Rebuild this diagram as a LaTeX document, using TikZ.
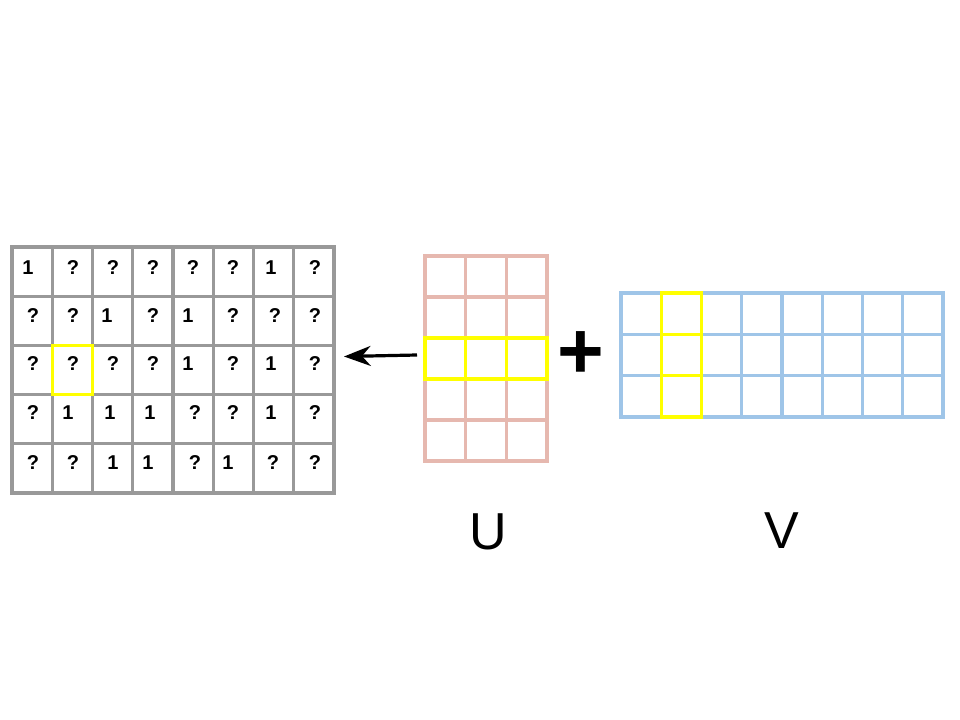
\documentclass[tikz,border=0pt]{standalone}
\usepackage{fontspec}
\setmainfont{Liberation Sans}
\usetikzlibrary{arrows.meta}
\tikzset{>=Stealth}
\definecolor{gridgray}{HTML}{999999}
\definecolor{upink}{HTML}{E6B8AF}
\definecolor{vblue}{HTML}{9FC5E8}
\definecolor{hilite}{HTML}{FFFF00}
\tikzset{
  cell/.style={inner sep=0pt, font=\fontsize{15}{16}\bfseries\selectfont},
  name label/.style={inner sep=0pt, font=\fontsize{39}{40}\selectfont}
}

\begin{document}
\begin{tikzpicture}[x=0.75pt,y=-0.75pt,line width=2.5pt,line cap=rect]
\useasboundingbox (0,0) rectangle (960,720);
% rating matrix
\foreach \i in {0,...,8}
  \draw[gridgray] ({12+40.25*\i},247)--({12+40.25*\i},493);
\foreach \j in {0,...,5}
  \draw[gridgray] (12,{247+49.2*\j})--(334,{247+49.2*\j});
\draw[hilite] (52.25,345.4) rectangle (92.5,394.6);
\foreach \x/\t [count=\k] in {28/1,73/?,113/?,153/?,193/?,233/?,271/1,315/?}
  \node[cell] (ra\k) at (\x,268) {\t};
\foreach \x/\t [count=\k] in {33/?,73/?,107/1,153/?,188/1,233/?,275/?,315/?}
  \node[cell] (rb\k) at (\x,316) {\t};
\foreach \x/\t [count=\k] in {33/?,73/?,113/?,153/?,188/1,233/?,271/1,315/?}
  \node[cell] (rc\k) at (\x,364) {\t};
\foreach \x/\t [count=\k] in {33/?,68/1,110/1,150/1,195/?,233/?,271/1,315/?}
  \node[cell] (rd\k) at (\x,413) {\t};
\foreach \x/\t [count=\k] in {33/?,73/?,113/1,148/1,195/?,228/1,273/?,315/?}
  \node[cell] (re\k) at (\x,463) {\t};
% U
\foreach \i in {0,...,3}
  \draw[upink] ({425+40.67*\i},256)--({425+40.67*\i},461);
\foreach \j in {0,...,5}
  \draw[upink] (425,{256+41*\j})--(547,{256+41*\j});
\draw[hilite] (425,338) rectangle (547,379);
\draw[hilite] (465.67,338)--(465.67,379) (506.33,338)--(506.33,379);
\node[name label] (ulabel) at (488,532) {U};
% V
\foreach \i in {0,...,8}
  \draw[vblue] ({621+40.25*\i},293)--({621+40.25*\i},417);
\foreach \j in {0,...,3}
  \draw[vblue] (621,{293+41.33*\j})--(943,{293+41.33*\j});
\draw[hilite] (661.25,293) rectangle (701.5,417);
\draw[hilite] (661.25,334.33)--(701.5,334.33) (661.25,375.67)--(701.5,375.67);
\node[name label] (vlabel) at (782,531) {V};
% plus and arrow
\node[inner sep=0pt,font=\fontsize{60}{62}\bfseries\selectfont] (plus) at (581,355) {+};
\coordinate (utail) at (417,355);
\coordinate (rhead) at (344,356.5);
\draw[->,black,line width=2.4pt,line cap=butt,>={Stealth[length=20pt,width=15pt]}] (utail)--(rhead);
\end{tikzpicture}
\end{document}
